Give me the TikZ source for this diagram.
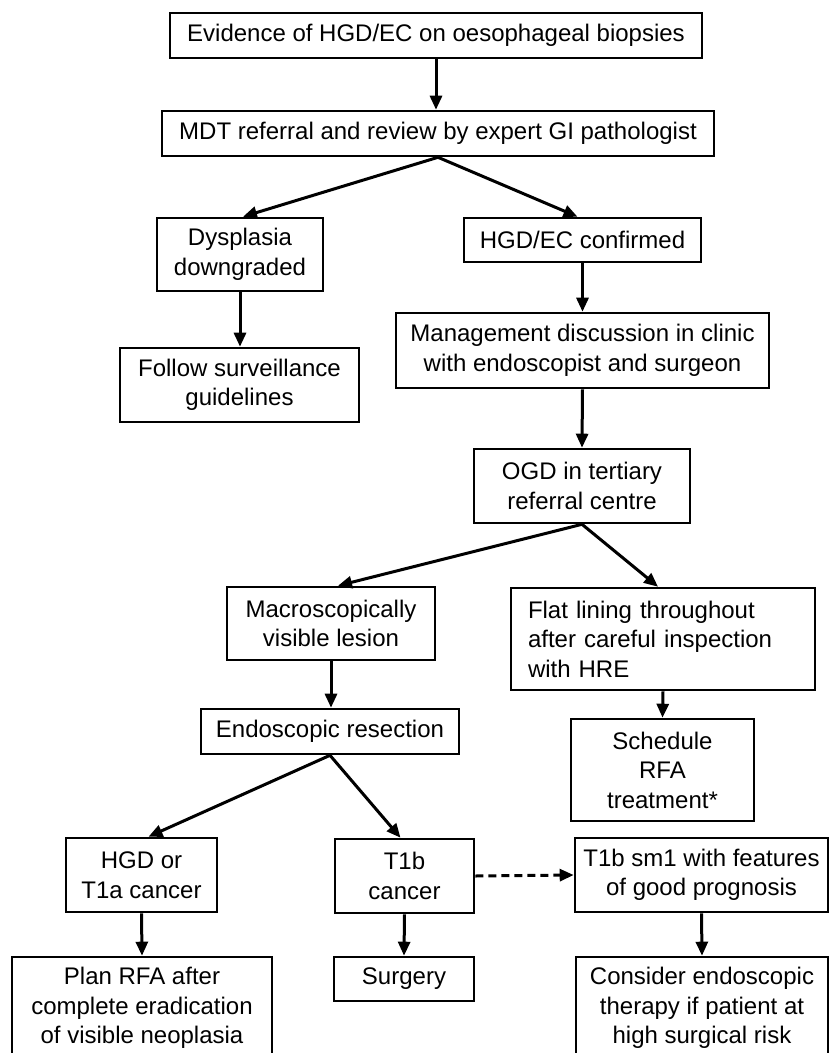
\documentclass[tikz,border=0pt]{standalone}
\usepackage{fontspec}
\setmainfont{Liberation Sans}
\usetikzlibrary{arrows.meta,calc}
\tikzset{
  box/.style={draw, line width=2.6pt, inner sep=0pt, align=center,
    font=\fontsize{24}{29.5}\selectfont},
  arr/.style={line width=3pt, -{Triangle[length=14pt,width=12pt]}},
  darr/.style={arr, dash pattern=on 8pt off 5pt}
}
\begin{document}
\begin{tikzpicture}[x=1pt,y=-1pt]
\useasboundingbox (0,0) rectangle (832,1053);
\clip (0,0) rectangle (832,1053);
\node[box, minimum width=532, minimum height=45] (top) at (436,35.5) {Evidence of HGD/EC on oesophageal biopsies};
\node[box, minimum width=552, minimum height=45] (mdt) at (438,133.5) {MDT referral and review by expert GI pathologist};
\node[box, minimum width=166, minimum height=73] (dys) at (240,254.5) {Dysplasia\\downgraded};
\node[box, minimum width=237, minimum height=44] (hgd) at (582.5,240) {HGD/EC confirmed};
\node[box, minimum width=239, minimum height=74] (follow) at (239.5,385) {Follow surveillance\\guidelines};
\node[box, minimum width=373, minimum height=75] (mgmt) at (582.5,350.5) {Management discussion in clinic\\with endoscopist and surgeon};
\node[box, minimum width=216, minimum height=74] (ogd) at (582,486) {OGD in tertiary\\referral centre};
\node[box, minimum width=208, minimum height=73] (macro) at (331,623.5) {Macroscopically\\visible lesion};
\node[box, align=left, inner xsep=17pt, text width=270pt, minimum height=102] (flat) at (663,639) {Flat lining throughout\\after careful inspection\\with HRE};
\node[box, minimum width=258, minimum height=45] (endo) at (330,731.5) {Endoscopic resection};
\node[box, minimum width=183, minimum height=102] (sched) at (662.5,770) {Schedule\\RFA\\treatment*};
\node[box, minimum width=151, minimum height=74] (hgdt) at (141.5,875) {HGD or\\T1a cancer};
\node[box, minimum width=139, minimum height=74] (t1b) at (404.5,876) {T1b\\cancer};
\node[box, minimum width=253, minimum height=74] (sm1) at (701.5,875) {T1b sm1 with features\\of good prognosis};
\node[box, minimum width=260, minimum height=102] (plan) at (142,1008) {Plan RFA after\\complete eradication\\of visible neoplasia};
\node[box, minimum width=140, minimum height=44] (surg) at (404,979) {Surgery};
\node[box, minimum width=252, minimum height=102] (cons) at (702,1008) {Consider endoscopic\\therapy if patient at\\high surgical risk};

\draw[arr] (top.south) -- (top.south |- mdt.north);
\draw[arr] (mdt.south) -- ($(dys.north)+(3,0)$);
\draw[arr] (mdt.south) -- ($(hgd.north)+(-5,0)$);
\draw[arr] (dys.south) -- (follow.north -| dys.south);
\draw[arr] (hgd.south) -- (mgmt.north -| hgd.south);
\draw[arr] (mgmt.south) -- (ogd.north);
\draw[arr] (ogd.south) -- ($(macro.north)+(7,0)$);
\draw[arr] (ogd.south) -- ($(flat.north)+(-5,0)$);
\draw[arr] (macro.south) -- (endo.north -| macro.south);
\draw[arr] (flat.south) -- (sched.north);
\draw[arr] (endo.south) -- ($(hgdt.north)+(7,0)$);
\draw[arr] (endo.south) -- ($(t1b.north)+(-4,0)$);
\draw[darr] (t1b.east) -- (sm1.west);
\draw[arr] (hgdt.south) -- (plan.north);
\draw[arr] (t1b.south) -- (surg.north);
\draw[arr] (sm1.south) -- (cons.north);
\end{tikzpicture}
\end{document}
